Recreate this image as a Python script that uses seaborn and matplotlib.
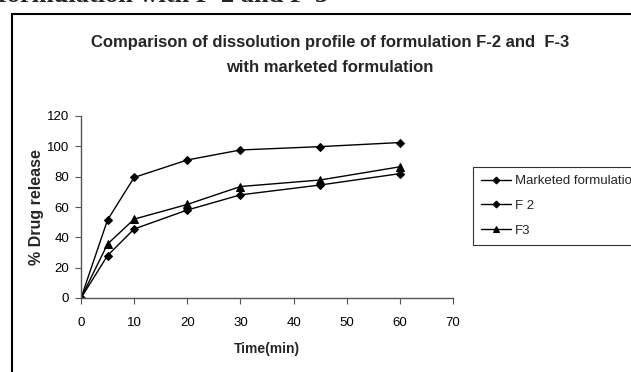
import matplotlib
matplotlib.use("Agg")
import matplotlib.pyplot as plt
import matplotlib.patches as mpatches
import seaborn as sns
import pandas as pd

time_min = [0, 5, 10, 20, 30, 45, 60]
marketed = [0, 51.5, 79.5, 91, 97.6, 99.8, 102.5]
f2 = [0, 28, 45.5, 58, 68, 74.5, 82]
f3 = [0, 35.6, 52, 61.7, 73.5, 77.8, 86.5]
series_names = ["Marketed formulation", "F 2", "F3"]
x_ticks = [0, 10, 20, 30, 40, 50, 60, 70]
y_ticks = [0, 20, 40, 60, 80, 100, 120]

rows = []
for name, vals in zip(series_names, [marketed, f2, f3]):
    for t, v in zip(time_min, vals):
        rows.append({"Time": t, "Release": v, "Series": name})
df = pd.DataFrame(rows)

sns.set_theme(style="white")
plt.rcParams["font.family"] = ["Liberation Sans", "DejaVu Sans"]

W, H = 631, 372
fig = plt.figure(figsize=(W / 100, H / 100), dpi=100)
ax = fig.add_axes([81 / W, 1 - 298 / H, 372 / W, 182 / H])

sns.lineplot(
    data=df, x="Time", y="Release", hue="Series", style="Series",
    palette={n: "black" for n in series_names},
    markers={"Marketed formulation": "D", "F 2": "D", "F3": "^"},
    dashes=False, markersize=4, linewidth=1.0, markeredgecolor="black",
    ax=ax, legend=True,
)
for ln in ax.lines:
    if ln.get_marker() == "^":
        ln.set_markersize(5.5)

ax.set_xlim(0, 70)
ax.set_ylim(0, 120)
ax.set_xticks(x_ticks)
ax.set_yticks(y_ticks)
ax.tick_params(axis="both", which="major", labelsize=9.5, length=4, width=0.8,
               direction="out", colors="#555555", labelcolor="black",
               bottom=True, left=True)
ax.tick_params(axis="x", pad=10)
ax.tick_params(axis="y", pad=4.5)
for s in ["top", "right"]:
    ax.spines[s].set_visible(False)
for s in ["left", "bottom"]:
    ax.spines[s].set_color("#555555")
    ax.spines[s].set_linewidth(1.0)
ax.set_xlabel("Time(min)", fontsize=10, fontweight="bold", labelpad=9)
ax.set_ylabel("% Drug release", fontsize=11.5, fontweight="bold", labelpad=2)

handles, labels = ax.get_legend_handles_labels()
ax.legend_.remove()
for h in handles:
    h.set_markersize(3.5 if h.get_marker() == "D" else 5)
leg = fig.legend(handles, labels, loc="upper left",
                 bbox_to_anchor=(473 / W, 1 - 167 / H), bbox_transform=fig.transFigure,
                 borderaxespad=0, fancybox=False, framealpha=1, edgecolor="#333333",
                 fontsize=9.5, handlelength=2.3, handletextpad=0.25, labelspacing=0.95,
                 borderpad=0.6)
leg.get_frame().set_linewidth(0.8)

fig.text(330 / W, 1 - 42 / H, "Comparison of dissolution profile of formulation F-2 and  F-3",
         ha="center", va="center", fontsize=12, fontweight="bold")
fig.text(330 / W, 1 - 68 / H, "with marketed formulation",
         ha="center", va="center", fontsize=12, fontweight="bold")

fig.text(-2 / W, 1 - 2 / H, "formulation with F-2 and F-3", ha="left", va="baseline",
         fontsize=19, fontweight="bold", family=["Liberation Serif", "DejaVu Serif"])

rect = mpatches.Rectangle((12 / W, -0.2), 1.2, 1.2 - 14 / H, transform=fig.transFigure,
                          fill=False, edgecolor="black", linewidth=1.5)
fig.patches.append(rect)

fig.savefig("out.png", dpi=100)
